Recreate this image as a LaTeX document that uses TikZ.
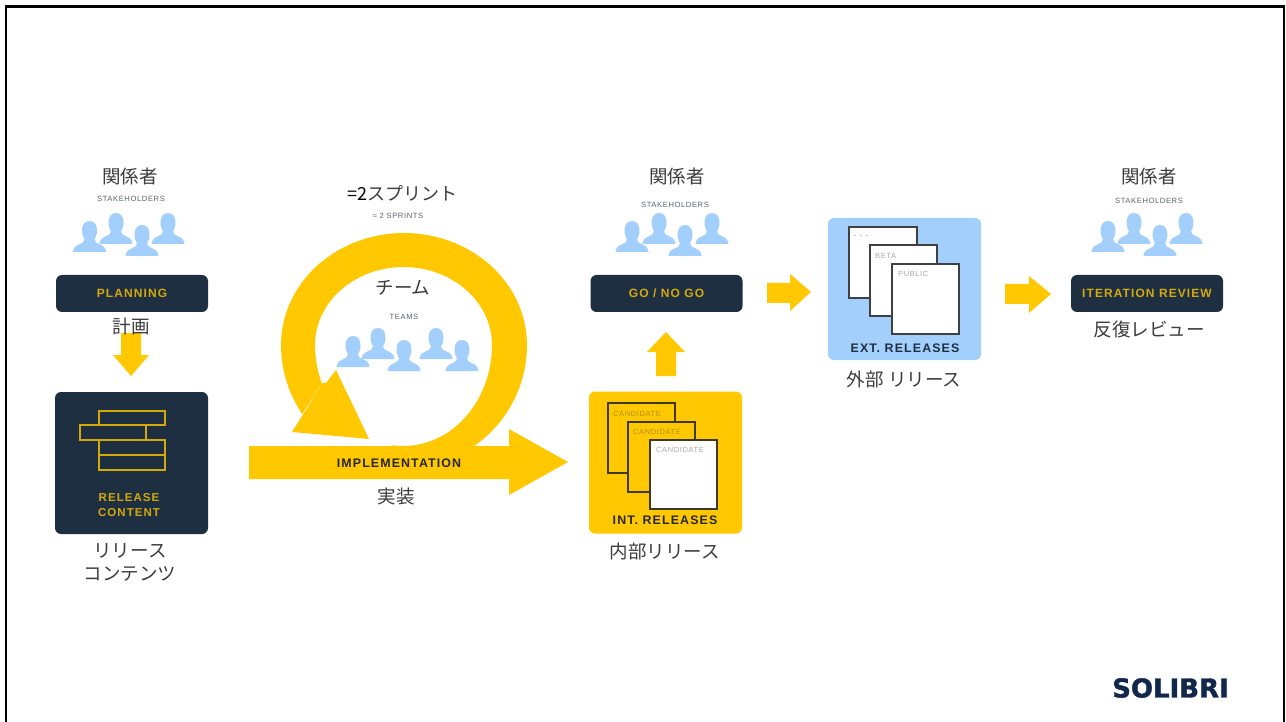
\documentclass[tikz,border=0pt]{standalone}
\usepackage{fontspec}
\setmainfont{Liberation Sans}
\newfontfamily\jp{Noto Sans CJK JP}
\newfontfamily\din[LetterSpace=8]{Liberation Sans}
\newfontfamily\dinb[LetterSpace=9]{Liberation Sans Bold}
\newfontfamily\logo[FakeBold=1.5]{DejaVu Sans Bold}
\definecolor{navy}{HTML}{1E2F42}
\definecolor{gold}{HTML}{FFC800}
\definecolor{darkgold}{HTML}{D4A90A}
\definecolor{sky}{HTML}{A3CFFC}
\definecolor{jpgray}{HTML}{3C3C3C}
\definecolor{smallgray}{HTML}{5A6472}
\definecolor{sheetline}{HTML}{3D3A20}
\definecolor{palegray}{HTML}{A8A8A8}
\definecolor{logoblue}{HTML}{12284A}
\tikzset{
  x=1pt,y=-1pt,
  jptext/.style={font=\jp\fontsize{18.5}{23}\selectfont,text=jpgray,inner sep=0pt,align=center},
  tinytext/.style={font=\din\fontsize{7.6}{9}\selectfont,text=smallgray,inner sep=0pt},
  bar/.style={rounded corners=6pt,fill=navy,draw=none,minimum width=152pt,minimum height=37pt,inner sep=0pt},
  bartext/.style={font=\dinb\fontsize{12}{14}\selectfont,text=darkgold},
  square/.style={rounded corners=6pt,minimum width=153pt,minimum height=142pt,inner sep=0pt},
  boxlabel/.style={font=\dinb\fontsize{12.4}{15}\selectfont,inner sep=0pt,align=center},
  sheet/.style={draw=sheetline,line width=1.2pt},
  sheettext/.style={font=\din\fontsize{7.5}{9}\selectfont,inner sep=0pt,anchor=west},
  block/.style={fill=gold,draw=none},
  person/.pic={
    \fill[sky] (0,0) .. controls (5,0) and (7.5,4) .. (7.5,9.5) .. controls (7.5,13.5) and (6,16.5) .. (5,18.5)
      .. controls (5,21) and (7.5,22.3) .. (10.5,23.5) .. controls (14.5,25) and (16.3,27.5) .. (16.5,31)
      -- (-16.5,31) .. controls (-16.3,27.5) and (-14.5,25) .. (-10.5,23.5) .. controls (-7.5,22.3) and (-5,21) .. (-5,18.5)
      .. controls (-6,16.5) and (-7.5,13.5) .. (-7.5,9.5) .. controls (-7.5,4) and (-5,0) .. (0,0) -- cycle;
  }
}
\begin{document}
\begin{tikzpicture}
\useasboundingbox (0,0) rectangle (1286,722);
\fill[white] (0,0) rectangle (1286,722);
\draw[black,line width=2.6pt] (6,722) -- (6,6.3) -- (1284,6.3) -- (1284,722);

% implementation arrow
\fill[block] (509,446) -- (509,429) -- (568,462) -- (509,495) -- (509,479) -- (249,479) -- (249,446) -- cycle;
% ring arrow head
\fill[block] (304,413) -- (292,432) -- (369,439) -- (336,370) -- (326,383) -- (322,383) -- cycle;
% ring
\fill[block]
  plot[domain=145.8:180,samples=12,variable=\t] ({404+123*cos(\t)},{345+123*sin(\t)})
  -- plot[domain=180:360,samples=60,variable=\t] ({404+123*cos(\t)},{345+112*sin(\t)})
  -- plot[domain=0:55.3,samples=20,variable=\t] ({404+123*cos(\t)},{345+123*sin(\t)})
  -- (392,447)
  -- plot[domain=97:0,samples=36,variable=\t] ({403.5+88.5*cos(\t)},{345+101*sin(\t)})
  -- plot[domain=0:-180,samples=60,variable=\t] ({403.5+88.5*cos(\t)},{345+78*sin(\t)})
  -- plot[domain=-180:-202.6,samples=10,variable=\t] ({403.5+88.5*cos(\t)},{345+99*sin(\t)})
  -- cycle;

% boxes
\node[bar] (planning) at (132,293.5) {};
\node[bartext] at (planning) {PLANNING};
\node[bar] (gonogo) at (666.5,293.5) {};
\node[bartext] at (gonogo) {GO / NO GO};
\node[bar] (iteration) at (1147,293.5) {};
\node[bartext] at (iteration) {ITERATION REVIEW};
\node[square,fill=navy] (content) at (131.5,463) {};
\node[square,fill=gold] (intrel) at (665.5,462.5) {};
\node[square,fill=sky] (extrel) at (904.5,289) {};

% release content bricks
\draw[darkgold,line width=1.2pt] (99,411) rectangle (165,425) (80,425) rectangle (146,440) (99,440) rectangle (165,455) (99,455) rectangle (165,470);
\node[boxlabel,font=\dinb\fontsize{11.5}{15}\selectfont,text=darkgold] (contentlabel) at (129,505.5) {RELEASE\\CONTENT};

% int sheets
\draw[sheet] (608,403) rectangle (675,473);
\node[sheettext,text=darkgold!85!black] (c1) at (613,413.5) {CANDIDATE};
\draw[sheet,fill=gold] (628,422) rectangle (695,492);
\node[sheettext,text=darkgold!85!black] (c2) at (633,432) {CANDIDATE};
\draw[sheet,fill=white] (650,440) rectangle (717,509);
\node[sheettext,text=palegray] (c3) at (656,450) {CANDIDATE};
\node[boxlabel,text=black!85] (intlabel) at (665,520.5) {INT. RELEASES};

% ext sheets
\draw[sheet,fill=white,draw=black!75] (849,227) rectangle (917,298);
\node[sheettext,font=\dinb\fontsize{7.5}{9}\selectfont,text=palegray] (e1) at (854,236) {. . .};
\draw[sheet,fill=white,draw=black!75] (870,245) rectangle (937,316);
\node[sheettext,text=palegray] (e2) at (875,256) {BETA};
\draw[sheet,fill=white,draw=black!75] (892,264) rectangle (959,334);
\node[sheettext,text=palegray] (e3) at (898,274) {PUBLIC};
\node[boxlabel,text=navy] (extlabel) at (905,348) {EXT. RELEASES};

% small arrows
\fill[block] (121,333) -- (141,333) -- (141,355) -- (149,355) -- (131,376) -- (113,355) -- (121,355) -- cycle;
\fill[block] (656,376) -- (676,376) -- (676,352) -- (685,352) -- (666,332) -- (647,352) -- (656,352) -- cycle;
\fill[block] (767,283) -- (790,283) -- (790,274) -- (811,292) -- (790,311) -- (790,303) -- (767,303) -- cycle;
\fill[block] (1005,284) -- (1029,284) -- (1029,276) -- (1051,294) -- (1029,313) -- (1029,304) -- (1005,304) -- cycle;

% people
\foreach \x/\y in {89.5/221,116/213,142/225,168/213,632/221,659/213,685/225,712/213,1108/221,1134/213,1160/225,1186/213,353/336,378/328,404/340,436/328,462/340}
  \pic at (\x,\y) {person};

% texts
\node[jptext] (s1) at (130,176) {関係者};
\node[tinytext] (s1e) at (131,199) {STAKEHOLDERS};
\node[jptext] (p1) at (131,326) {計画};
\node[jptext] (rc) at (130,562.5) {リリース\\コンテンツ};
\node[jptext,font=\jp\fontsize{18}{23}\selectfont] (sp) at (402.5,193) {\textcolor{black}{=2}スプリント};
\node[tinytext] (spe) at (398,216) {≈ 2 SPRINTS};
\node[jptext] (tm) at (403,288) {チーム};
\node[tinytext] (tme) at (404,317) {TEAMS};
\node[boxlabel,text=black!85] (impl) at (399,463) {IMPLEMENTATION};
\node[jptext] (im) at (396,497) {実装};
\node[jptext] (s2) at (677,176) {関係者};
\node[tinytext] (s2e) at (675,205) {STAKEHOLDERS};
\node[jptext] (ir) at (665,551) {内部リリース};
\node[jptext] (er) at (904,379) {外部 リリース};
\node[jptext] (s3) at (1149,176) {関係者};
\node[tinytext] (s3e) at (1149,201) {STAKEHOLDERS};
\node[jptext] (iv) at (1149,329) {反復レビュー};
\node[font=\logo\fontsize{26}{30}\selectfont,text=logoblue,inner sep=0pt] (logo) at (1170.5,688) {SOLIBRI};
\end{tikzpicture}
\end{document}
